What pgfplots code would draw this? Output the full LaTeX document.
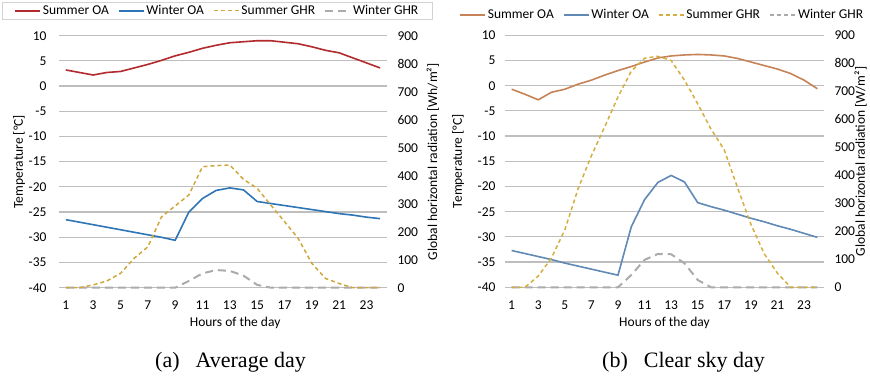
\documentclass[border=0pt]{standalone}
\usepackage{pgfplots}
\usepackage{pgfplotstable}
\pgfplotsset{compat=1.18}
\usepackage{fontspec}
\setmainfont{Carlito}
\newfontfamily\capfont{Liberation Serif}

\definecolor{aSum}{HTML}{B22A2E}
\definecolor{aWin}{HTML}{2E75B6}
\definecolor{aGold}{HTML}{CFA73C}
\definecolor{bSum}{HTML}{C58357}
\definecolor{bWin}{HTML}{6089B5}
\definecolor{bGold}{HTML}{D4AE3F}
\definecolor{ghrGray}{HTML}{ABABAB}
\definecolor{gridc}{HTML}{BEBEBE}

\pgfplotstableread{
h sOA wOA sGHR wGHR
1 3.2 -26.5 0 0
2 2.7 -27.0 0 0
3 2.2 -27.5 10 0
4 2.7 -28.0 24 0
5 2.9 -28.5 51 0
6 3.6 -29.0 105 0
7 4.3 -29.5 146 0
8 5.1 -30.0 253 0
9 6.0 -30.6 292 0
10 6.7 -25.0 331 24
11 7.5 -22.3 432 51
12 8.1 -20.7 436 63
13 8.6 -20.2 438 60
14 8.8 -20.6 387 43
15 9.0 -22.9 355 10
16 9.0 -23.3 295 0
17 8.7 -23.7 236 0
18 8.4 -24.1 176 0
19 7.8 -24.5 87 0
20 7.1 -24.9 33 0
21 6.6 -25.3 15 0
22 5.6 -25.6 0 0
23 4.6 -26.0 0 0
24 3.6 -26.3 0 0
}\dataA

\pgfplotstableread{
h sOA wOA sGHR wGHR
1 -0.7 -32.7 0 0
2 -1.7 -33.3 0 0
3 -2.8 -33.9 40 0
4 -1.3 -34.5 105 0
5 -0.7 -35.2 205 0
6 0.3 -35.8 352 0
7 1.1 -36.4 470 0
8 2.1 -37.0 573 0
9 3.0 -37.6 680 0
10 3.8 -28.0 772 44
11 4.7 -22.6 818 98
12 5.5 -19.2 825 119
13 5.9 -17.8 810 118
14 6.1 -19.1 740 86
15 6.2 -23.2 655 26
16 6.1 -24.0 565 0
17 5.9 -24.7 490 0
18 5.4 -25.5 355 0
19 4.7 -26.3 225 0
20 4.0 -27.0 120 0
21 3.3 -27.8 50 0
22 2.4 -28.5 0 0
23 1.1 -29.3 0 0
24 -0.6 -30.1 0 0
}\dataB

\newcommand\cf{\fontsize{13.5}{16}\selectfont}

\pgfplotsset{
  base/.style={
    scale only axis, height=252pt,
    xmin=0.5, xmax=24.5,
    /pgf/number format/assume math mode=true,
    tick label style={font=\cf},
    label style={font=\cf},
    separate axis lines,
    axis line style={draw=none},
    major tick length=0pt,
    tick style={draw=none},
    clip=false,
    legend image code/.code={\draw[##1] (0pt,0pt) -- (25pt,0pt);},
    legend cell align=left,
    legend columns=4,
  },
  prim/.style={
    base,
    axis x line*=bottom, axis y line*=left,
    ymin=-40, ymax=10, ytick={-40,-35,...,10},
    xtick={1,3,...,23},
    ymajorgrids, grid style={line width=1.2pt, color=gridc},
    xticklabel style={anchor=north, yshift=-10pt},
    xlabel={Hours of the day},
    ylabel={Temperature [°C]},
    every axis x label/.style={at={(axis description cs:#1,-0.14)}, anchor=center, font=\cf},
  },
  sec/.style={
    base,
    axis x line=none, axis y line*=right,
    ymin=0, ymax=900, ytick={0,100,...,900},
    yticklabel style={anchor=west, xshift=7pt},
  },
  sumOA/.style={line width=1.6pt},
  gold/.style={line width=1.5pt, dash pattern=on 4pt off 3pt},
  grayd/.style={ghrGray, line width=2pt, dash pattern=on 8pt off 5pt},
}

\begin{document}
\begin{tikzpicture}[x=1pt,y=1pt]
\useasboundingbox (0,0) rectangle (870,379);

% ---------- Panel (a) ----------
\begin{axis}[prim=0.537, at={(59pt,91.3pt)}, anchor=south west, width=328pt,
  yticklabel style={anchor=east, xshift=-9pt},
  every axis y label/.style={at={(axis description cs:-0.122,0.5)}, rotate=90, anchor=center, font=\cf}]
\addplot[aSum, sumOA] table[x=h, y=sOA] {\dataA};
\addplot[aWin, line width=1.6pt] table[x=h, y=wOA] {\dataA};
\end{axis}
\begin{axis}[sec, at={(59pt,91.3pt)}, anchor=south west, width=328pt,
  ylabel={Global horizontal radiation [Wh/m²]},
  every axis y label/.style={at={(axis description cs:1.140,0.5)}, rotate=90, anchor=center, font=\cf},
  legend style={at={(axis description cs:-0.174,1.134)}, anchor=north west, font=\cf,
    draw=gray!35, line width=0.8pt, inner xsep=12pt, inner ysep=1pt,
    /tikz/every even column/.append style={column sep=7pt}}]
\addlegendimage{aSum, line width=1.6pt}
\addlegendimage{aWin, line width=1.6pt}
\addlegendimage{aGold, gold}
\addlegendimage{grayd}
\addplot[grayd, forget plot] table[x=h, y=wGHR] {\dataA};
\addplot[aGold, gold, forget plot] table[x=h, y=sGHR] {\dataA};
\legend{Summer OA, Winter OA, Summer GHR, Winter GHR}
\end{axis}

% ---------- Panel (b) ----------
\begin{axis}[prim=0.5, at={(505pt,91.7pt)}, anchor=south west, width=319pt,
  yticklabel style={anchor=east, xshift=-6pt},
  every axis y label/.style={at={(axis description cs:-0.147,0.5)}, rotate=90, anchor=center, font=\cf}]
\addplot[bSum, sumOA] table[x=h, y=sOA] {\dataB};
\addplot[bWin, line width=1.6pt] table[x=h, y=wOA] {\dataB};
\end{axis}
\begin{axis}[sec, at={(505pt,91.7pt)}, anchor=south west, width=319pt,
  ylabel={Global horizontal radiation [W/m²]},
  every axis y label/.style={at={(axis description cs:1.115,0.5)}, rotate=90, anchor=center, font=\cf},
  legend style={at={(axis description cs:-0.144,1.081)}, anchor=west, font=\cf,
    draw=none, fill=none, inner xsep=0pt, inner ysep=0pt,
    /tikz/every even column/.append style={column sep=7pt}}]
\addlegendimage{bSum, line width=1.6pt}
\addlegendimage{bWin, line width=1.6pt}
\addlegendimage{bGold, gold}
\addlegendimage{grayd, dash pattern=on 4pt off 3pt}
\addplot[grayd, forget plot] table[x=h, y=wGHR] {\dataB};
\addplot[bGold, gold, forget plot] table[x=h, y=sGHR] {\dataB};
\legend{Summer OA, Winter OA, Summer GHR, Winter GHR}
\end{axis}

% ---------- captions ----------
\node[anchor=base west, inner sep=0pt, font=\capfont\fontsize{22}{24}\selectfont] at (155,11) {(a)\hspace{16pt}Average day};
\node[anchor=base west, inner sep=0pt, font=\capfont\fontsize{22}{24}\selectfont] at (602,11) {(b)\hspace{16pt}Clear sky day};
\end{tikzpicture}
\end{document}
